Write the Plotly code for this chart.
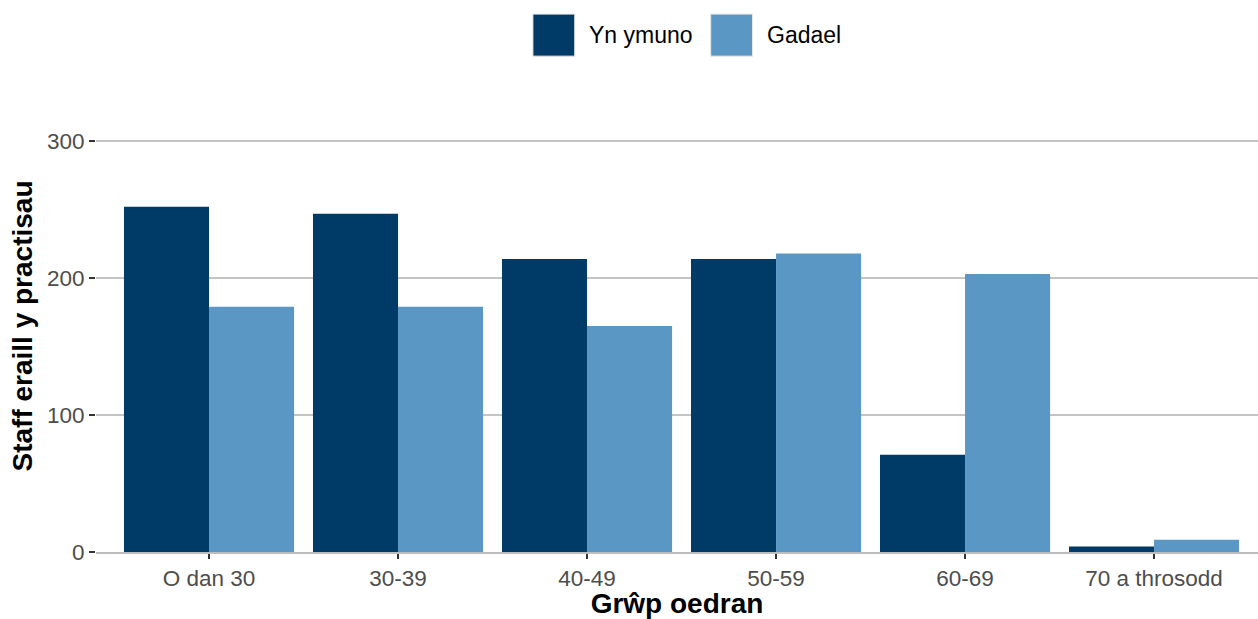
import plotly.graph_objects as go

# data
categories = ["O dan 30", "30-39", "40-49", "50-59", "60-69", "70 a throsodd"]
joining = [252, 247, 214, 214, 71, 4]
leaving = [179, 179, 165, 218, 203, 9]
series_names = ["Yn ymuno", "Gadael"]
colours = ["#003B68", "#5B97C5"]
y_ticks = [0, 100, 200, 300]

fig = go.Figure()
fig.add_trace(go.Bar(x=categories, y=joining, name=series_names[0],
                     marker=dict(color=colours[0], line=dict(width=0))))
fig.add_trace(go.Bar(x=categories, y=leaving, name=series_names[1],
                     marker=dict(color=colours[1], line=dict(width=0))))

# legend drawn by hand to get the large ggplot-style keys
legend_x = [0.376, 0.529]
for i, name in enumerate(series_names):
    fig.add_shape(type="rect", xref="paper", yref="paper",
                  x0=legend_x[i], x1=legend_x[i] + 0.036,
                  y0=1.097, y1=1.190,
                  fillcolor=colours[i], line=dict(color="#E8E8E8", width=1))
    fig.add_annotation(xref="paper", yref="paper", x=legend_x[i] + 0.0465, y=1.144,
                       text=name, showarrow=False, xanchor="left", yanchor="middle",
                       font=dict(size=23, color="#000000"))

fig.update_layout(
    width=1258, height=619,
    margin=dict(l=96, r=0, t=100, b=67),
    barmode="group", bargap=0.1, bargroupgap=0,
    showlegend=False,
    plot_bgcolor="white", paper_bgcolor="white",
    font=dict(family="Liberation Sans, Arial, sans-serif"),
)
fig.update_xaxes(
    range=[-0.598, 5.55], automargin=False,
    showgrid=False, showline=True, linecolor="#BEBEBE", linewidth=1.5,
    ticks="outside", ticklen=5, tickwidth=1.5, tickcolor="#333333",
    tickfont=dict(size=22.5, color="#4D4D4D"),
    title=dict(text="Grŵp oedran", font=dict(size=28, color="#000000", weight="bold"),
               standoff=0),
)
fig.update_yaxes(
    range=[0, 330], tickvals=y_ticks, automargin=False,
    showgrid=True, gridcolor="#C4C4C4", gridwidth=1.5, zeroline=False,
    showline=False,
    ticks="outside", ticklen=6, tickwidth=1.5, tickcolor="#333333",
    tickfont=dict(size=22.5, color="#4D4D4D"),
    title=dict(text="Staff eraill y practisau", font=dict(size=28, color="#000000", weight="bold"),
               standoff=6),
)

# drop the default 8px body margin so the figure fills the window
fig.write_html("out.html", config={"displayModeBar": False},
               post_script="document.body.style.margin='0';")
